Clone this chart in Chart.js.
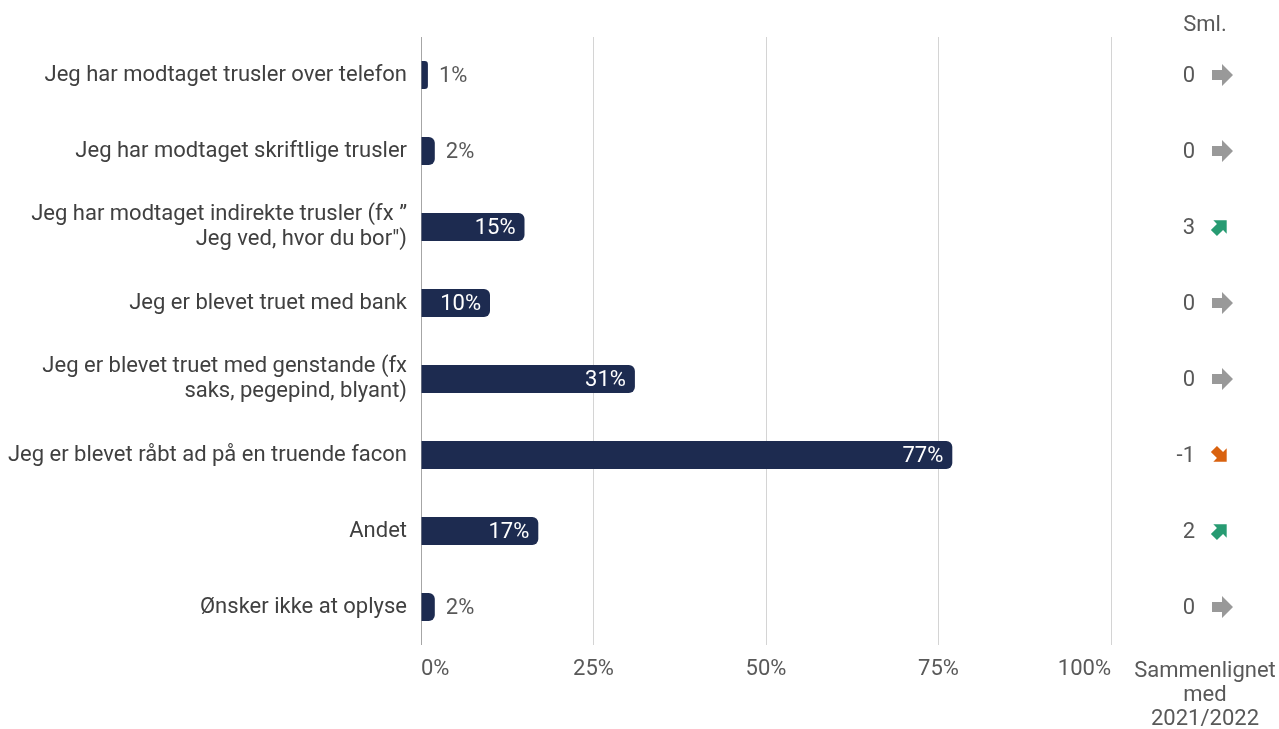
<!DOCTYPE html>
<html>
<head>
<meta charset="utf-8">
<script src="https://cdn.jsdelivr.net/npm/chart.js@4.4.0/dist/chart.umd.min.js"></script>
<style>
    html, body { margin: 0; padding: 0; background: #fff; }
    #wrap { width: 1279px; height: 729px; position: relative; }
</style>
</head>
<body>
<div id="wrap"><canvas id="chart"></canvas></div>
<script>
"use strict";

// Chart labels
const categories = [
    'Jeg har modtaget trusler over telefon',
    'Jeg har modtaget skriftlige trusler',
    ['Jeg har modtaget indirekte trusler (fx \u201d', 'Jeg ved, hvor du bor")'],
    'Jeg er blevet truet med bank',
    ['Jeg er blevet truet med genstande (fx', 'saks, pegepind, blyant)'],
    'Jeg er blevet råbt ad på en truende facon',
    'Andet',
    'Ønsker ikke at oplyse'
];

// Chart data (percent)
const shares = [1, 2, 15, 10, 31, 77, 17, 2];

// Change compared with 2021/2022
const changes = [0, 0, 3, 0, 0, -1, 2, 0];

// Axis ticks
const xTicks = [0, 25, 50, 75, 100];

// Colors
const barColor = '#1d2b50';
const textColor = '#595959';
const labelColor = '#404040';
const flatColor = '#999999';
const upColor = '#279b72';
const downColor = '#d9620f';

// Value labels on bars: white inside long bars, grey after short ones
const valueLabels = {
    id: 'valueLabels',
    afterDatasetsDraw(chart) {
        const ctx = chart.ctx;
        const meta = chart.getDatasetMeta(0);
        ctx.save();
        ctx.font = '22px Roboto';
        ctx.textBaseline = 'middle';
        meta.data.forEach(function (bar, i) {
            const txt = shares[i] + '%';
            if (shares[i] >= 10) {
                ctx.fillStyle = '#ffffff';
                ctx.textAlign = 'right';
                ctx.fillText(txt, bar.x - 9, bar.y + 1);
            } else {
                ctx.fillStyle = textColor;
                ctx.textAlign = 'left';
                ctx.fillText(txt, bar.x + 11, bar.y + 1);
            }
        });
        ctx.restore();
    }
};

// Right hand column with change and arrow
const compareColumn = {
    id: 'compareColumn',
    afterDraw(chart) {
        const ctx = chart.ctx;
        const yScale = chart.scales.y;
        ctx.save();
        ctx.font = '22px Roboto';
        ctx.fillStyle = textColor;
        ctx.textBaseline = 'middle';
        ctx.textAlign = 'center';
        ctx.fillText('Sml.', 1205, 25);
        ctx.fillText('Sammenlignet', 1205, 671);
        ctx.fillText('med', 1205, 695);
        ctx.fillText('2021/2022', 1205, 719);

        changes.forEach(function (c, i) {
            const y = yScale.getPixelForValue(i);
            ctx.fillStyle = textColor;
            ctx.textAlign = 'right';
            ctx.fillText(String(c), 1195, y + 1);

            // block arrow
            let angle = 0, color = flatColor, cx = 1222, s = 1;
            if (c > 0) { angle = -Math.PI / 4; color = upColor; cx = 1220; s = 0.86; }
            if (c < 0) { angle = Math.PI / 4; color = downColor; cx = 1220; s = 0.86; }
            ctx.save();
            ctx.translate(cx, y);
            ctx.rotate(angle);
            ctx.scale(s, s);
            ctx.fillStyle = color;
            ctx.beginPath();
            ctx.moveTo(-10, -5);
            ctx.lineTo(0, -5);
            ctx.lineTo(0, -11);
            ctx.lineTo(11, 0);
            ctx.lineTo(0, 11);
            ctx.lineTo(0, 5);
            ctx.lineTo(-10, 5);
            ctx.closePath();
            ctx.fill();
            ctx.restore();
        });
        ctx.restore();
    }
};

Chart.defaults.font.family = 'Roboto';
Chart.defaults.font.size = 22;
Chart.defaults.color = textColor;

const config = {
    type: 'bar',
    data: {
        labels: categories,
        datasets: [{
            data: shares,
            backgroundColor: barColor,
            borderRadius: { topRight: 6, bottomRight: 6 },
            borderSkipped: 'start',
            barPercentage: 0.92,
            categoryPercentage: 0.4
        }]
    },
    options: {
        indexAxis: 'y',
        responsive: true,
        maintainAspectRatio: false,
        animation: false,
        layout: {
            padding: { left: 4, right: 168, top: 37, bottom: 44 }
        },
        plugins: {
            legend: { display: false },
            tooltip: { enabled: false },
            title: { display: false }
        },
        scales: {
            x: {
                min: 0,
                max: 100,
                afterBuildTicks(scale) {
                    scale.ticks = xTicks.map(v => ({ value: v }));
                },
                afterFit(scale) {
                    scale.height = 40;
                },
                ticks: {
                    padding: 11,
                    color: textColor,
                    align: 'inner',
                    callback: v => v + '%'
                },
                grid: {
                    drawTicks: false,
                    color: ctx => ctx.tick && ctx.tick.value === 0 ? '#a6a6a6' : '#d4d4d4',
                    lineWidth: 1
                },
                border: { display: false }
            },
            y: {
                afterFit(scale) {
                    scale.width = 417;
                },
                ticks: {
                    padding: 14,
                    color: labelColor,
                    crossAlign: 'near',
                    font: { size: 22, lineHeight: 1.15 }
                },
                grid: { display: false, drawTicks: false },
                border: { display: false }
            }
        }
    },
    plugins: [valueLabels, compareColumn]
};

var myChart = new Chart(document.getElementById('chart'), config);
</script>
</body>
</html>
